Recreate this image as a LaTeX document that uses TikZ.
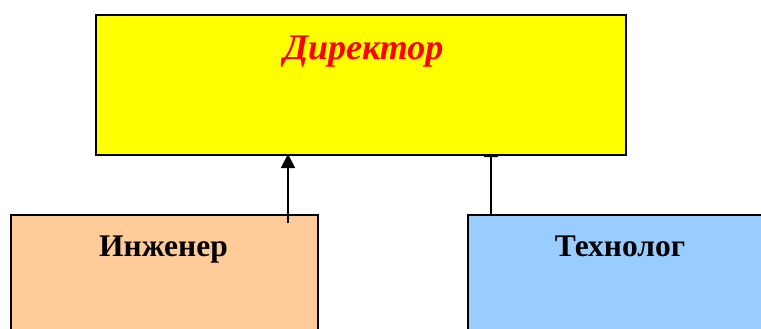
\documentclass[tikz,border=0pt]{standalone}
\usepackage{fontspec}
\setmainfont{Liberation Serif}
\usetikzlibrary{arrows.meta}
\definecolor{boxyellow}{RGB}{255,255,0}
\definecolor{boxorange}{RGB}{255,204,153}
\definecolor{boxblue}{RGB}{153,204,255}
\definecolor{titlered}{RGB}{255,0,0}
\tikzset{
  unit/.style={draw=black, line width=1.8pt, anchor=north west, inner sep=0pt},
  link/.style={line width=1.8pt, -{Triangle[width=14pt,length=14pt]}},
  label/.style={font=\bfseries\fontsize{31.5}{34}\selectfont, anchor=base, inner sep=0pt}
}
\begin{document}
\begin{tikzpicture}[x=1pt,y=-1pt]
  \useasboundingbox (0,0) rectangle (761,329);
  % lower units
  \node[unit, fill=boxorange, minimum width=307pt, minimum height=130pt] (eng) at (10,214) {};
  \node[unit, fill=boxblue, minimum width=310pt, minimum height=130pt] (tech) at (467,214) {};
  \node[label] (engtext) at (163.5,256) {Инженер};
  \node[label] (techtext) at (620,256) {Технолог};
  % links to the director (the right one is partly hidden by the box)
  \coordinate (engtop) at (288,223);
  \coordinate (dirA) at (288,154);
  \coordinate (dirB) at (491,143);
  \draw[link] (engtop) -- (dirA);
  \draw[link] (tech.north west -| dirB) -- (dirB);
  % director box
  \node[unit, fill=boxyellow, minimum width=530pt, minimum height=140pt] (dir) at (95,14) {};
  \node[font=\bfseries\itshape\fontsize{36}{40}\selectfont, text=titlered, anchor=base, inner sep=0pt] (dirtext) at (363.5,60) {Директор};
\end{tikzpicture}
\end{document}
